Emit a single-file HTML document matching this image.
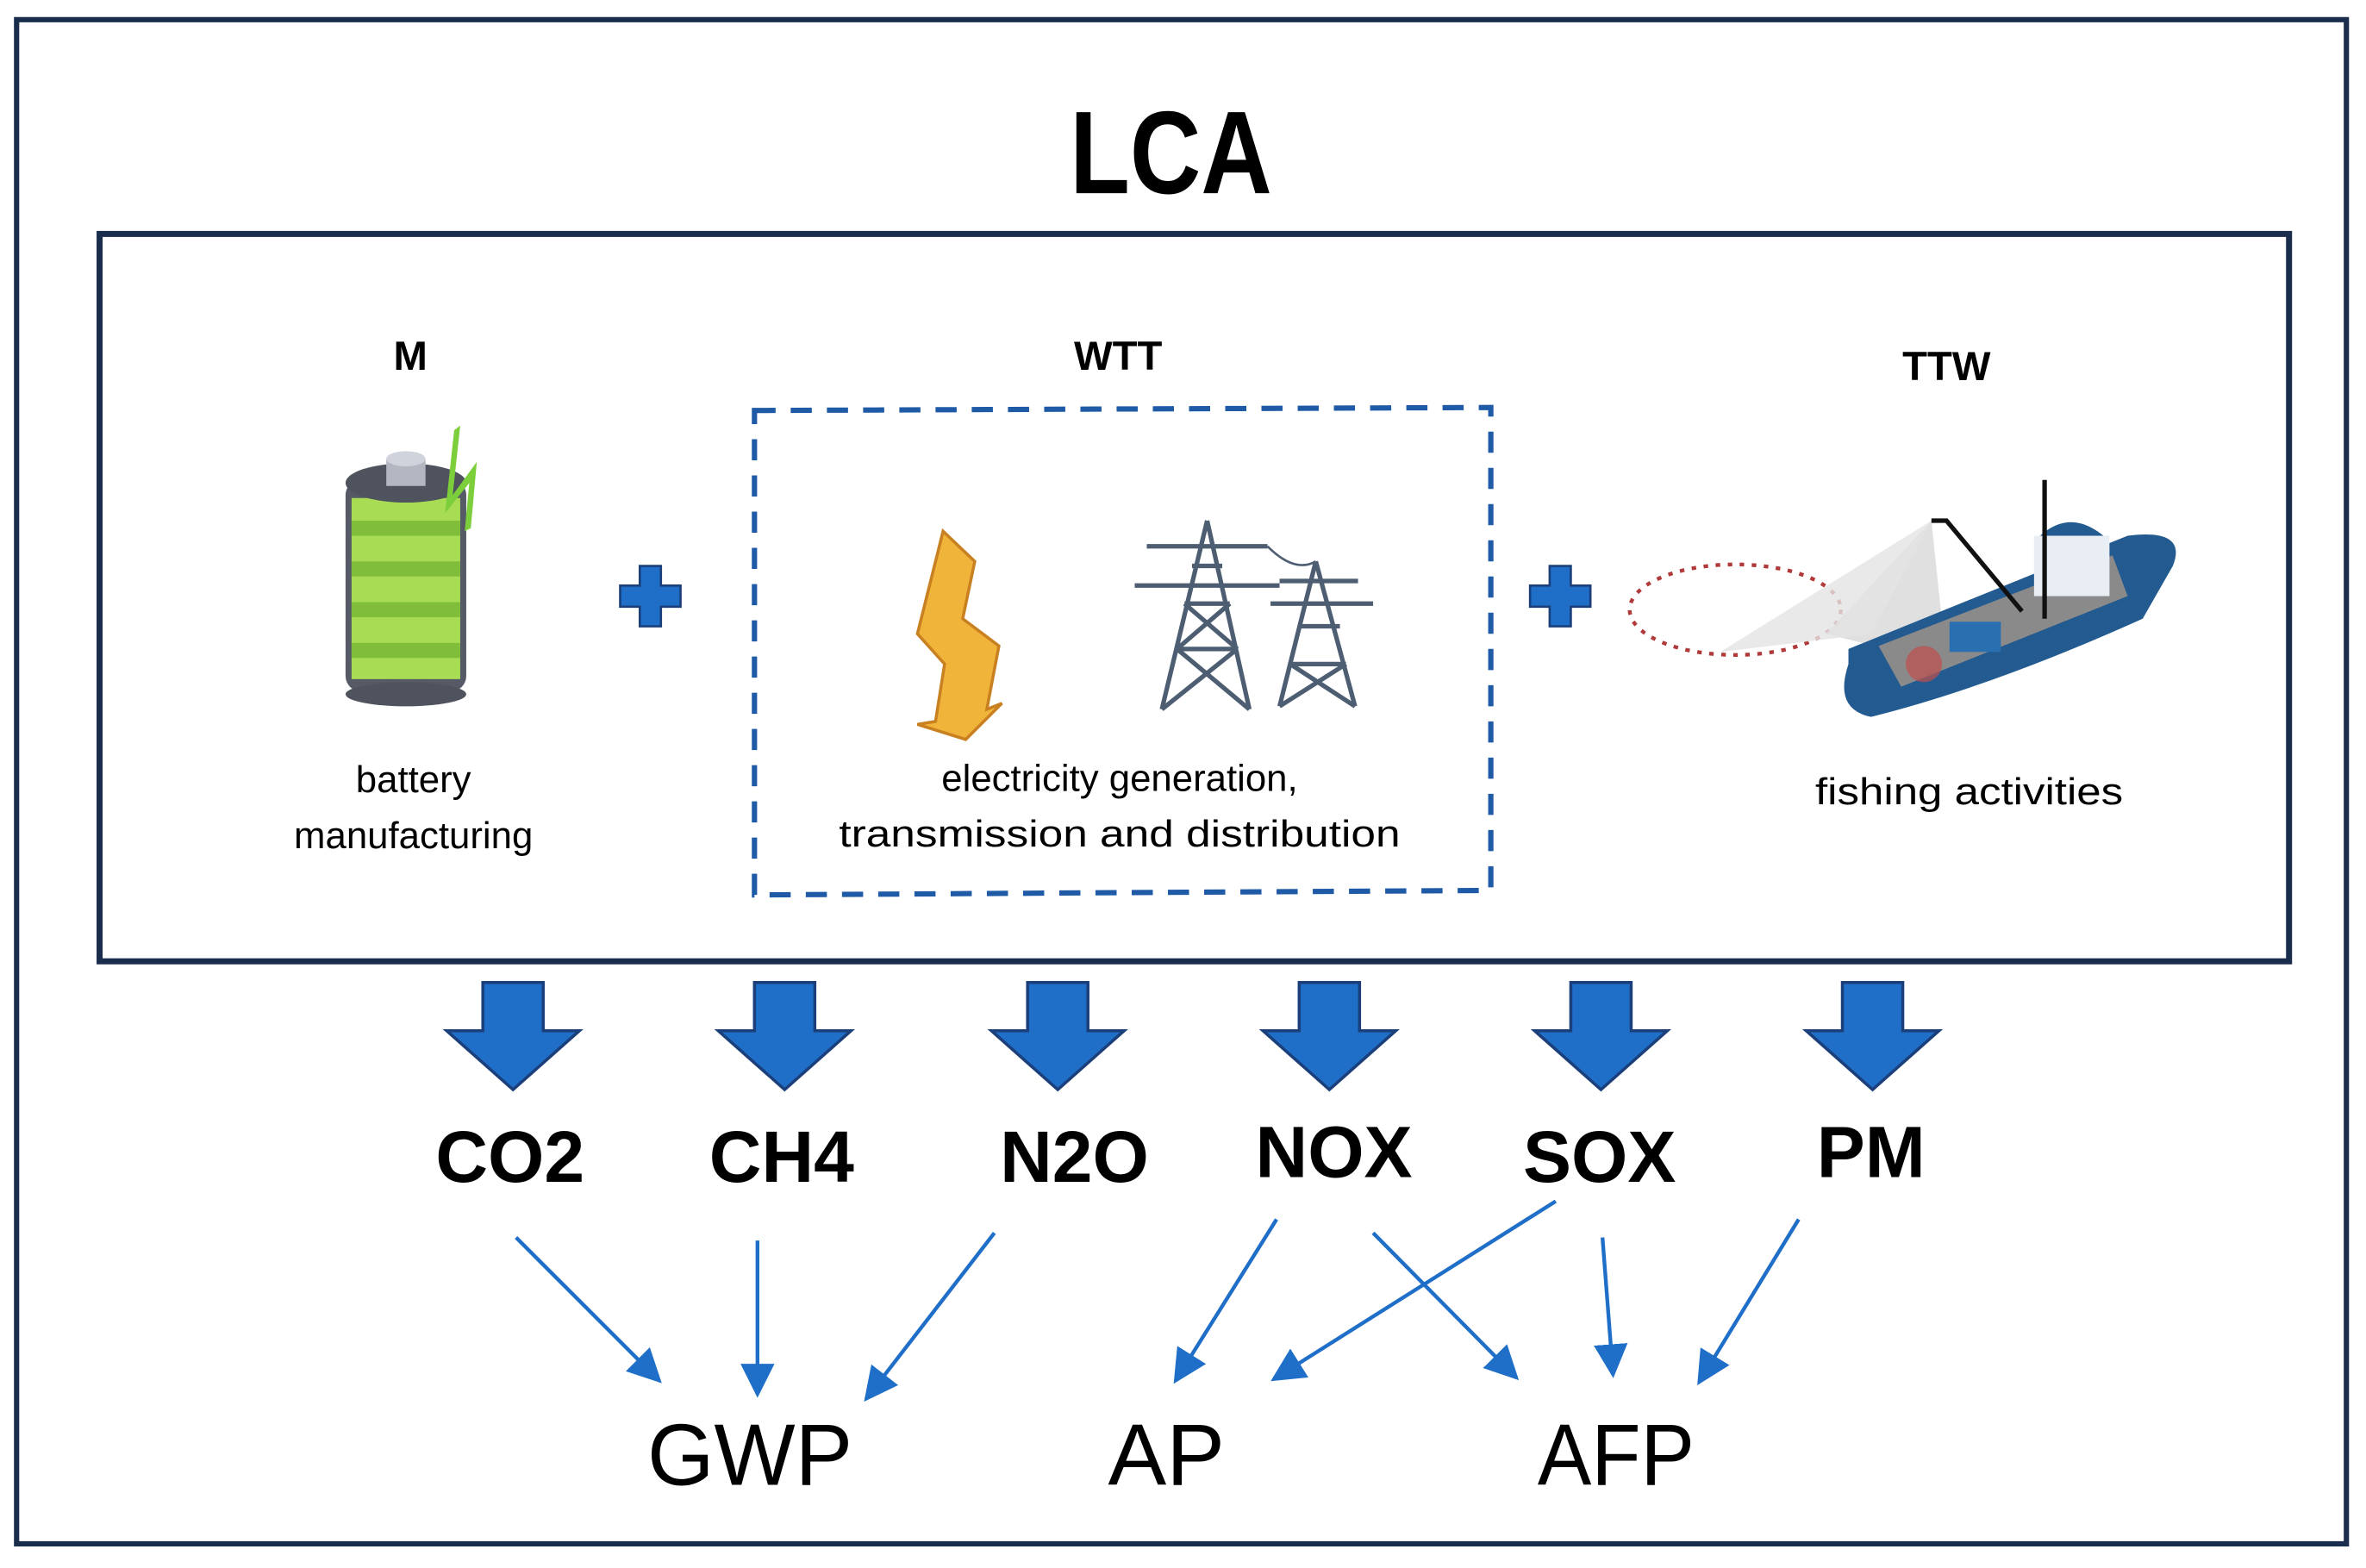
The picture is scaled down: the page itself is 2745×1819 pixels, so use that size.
<!DOCTYPE html>
<html><head><meta charset="utf-8"><style>
html,body{margin:0;padding:0;background:#fff;}
svg{display:block;}
text{font-family:"Liberation Sans",sans-serif;}
</style></head><body>
<svg width="2745" height="1819" viewBox="0 0 1568 1039" xmlns="http://www.w3.org/2000/svg">
<defs>
<marker id="ah" viewBox="0 0 10 10" refX="9" refY="5" markerWidth="9" markerHeight="9" orient="auto" markerUnits="strokeWidth">
<path d="M0,0 L10,5 L0,10 Z" fill="#1f6fc8"/></marker>
</defs>
<rect width="1568" height="1039" fill="#fff"/>
<rect x="11" y="13" width="1544" height="1010" fill="none" stroke="#1b2d4d" stroke-width="3.5"/>
<text x="776" y="128" font-size="78" font-weight="bold" text-anchor="middle" textLength="134" lengthAdjust="spacingAndGlyphs">LCA</text>
<rect x="66" y="155" width="1451" height="482" fill="none" stroke="#1b2d4d" stroke-width="4"/>
<text x="272" y="245" font-size="27" font-weight="bold" text-anchor="middle">M</text>
<text x="741" y="245" font-size="27" font-weight="bold" text-anchor="middle">WTT</text>
<text x="1290" y="252" font-size="27" font-weight="bold" text-anchor="middle">TTW</text>
<path d="M500,272 L988,270 L988,590 L500,593 Z" fill="none" stroke="#1f5aa6" stroke-width="3.5" stroke-dasharray="14,10"/>
<g fill="#1f6fc8" stroke="#1b3f7a" stroke-width="1.5">
<path d="M424,375 h14 v13 h13 v14 h-13 v13 h-14 v-13 h-13 v-14 h13 Z"/>
<path d="M1027,375 h14 v13 h13 v14 h-13 v13 h-14 v-13 h-13 v-14 h13 Z"/>
</g>
<g>
<rect x="229" y="318" width="80" height="140" rx="10" fill="#555a66"/>
<rect x="233" y="330" width="72" height="120" fill="#a8dc55"/>
<rect x="233" y="345" width="72" height="10" fill="#7fbd3a"/>
<rect x="233" y="372" width="72" height="10" fill="#7fbd3a"/>
<rect x="233" y="399" width="72" height="10" fill="#7fbd3a"/>
<rect x="233" y="426" width="72" height="10" fill="#7fbd3a"/>
<ellipse cx="269" cy="320" rx="40" ry="13" fill="#4e535e"/>
<ellipse cx="269" cy="460" rx="40" ry="8" fill="#4e535e"/>
<rect x="256" y="304" width="26" height="18" fill="#b4b6c2"/>
<ellipse cx="269" cy="304" rx="13" ry="5" fill="#d0d2dc"/>
<path d="M305,282 L300,328 L316,306 L312,350 L308,352 L311,320 L295,340 L301,285 Z" fill="#7ccf3a"/>
</g>
<path d="M625,352 L646,372 L638,410 L662,428 L654,470 L664,466 L640,490 L608,480 L620,478 L626,440 L608,420 Z" fill="#f0b43a" stroke="#c98020" stroke-width="2"/>
<g stroke="#4d5e72" stroke-width="3" fill="none">
<path d="M800,345 L770,470 M800,345 L828,470 M780,430 L820,430 M785,400 L815,400 M790,375 L810,375 M770,470 L820,430 M828,470 L780,430 M780,430 L815,400 M820,430 L785,400 M752,388 L848,388 M760,362 L840,362"/>
<path d="M872,372 L848,468 M872,372 L898,468 M855,440 L892,440 M860,415 L888,415 M848,468 L892,440 M898,468 L855,440 M842,400 L910,400 M848,385 L900,385"/>
<path d="M840,362 Q858,380 872,372" stroke-width="1.5"/>
</g>
<g>
<ellipse cx="1150" cy="404" rx="70" ry="30" fill="none" stroke="#b03a3a" stroke-width="2.5" stroke-dasharray="3,5"/>
<path d="M1210,420 L1280,345 L1290,440 Z" fill="#d8d8d8" opacity="0.8"/>
<path d="M1140,432 L1280,345 L1240,420 Z" fill="#e4e4e4" opacity="0.8"/>
<path d="M1225,430 L1410,355 Q1450,350 1440,375 L1420,410 Q1320,455 1240,475 Q1215,470 1225,440 Z" fill="#235b90"/>
<path d="M1245,428 L1400,368 L1410,395 L1260,455 Z" fill="#8a8a8a"/>
<rect x="1348" y="355" width="50" height="40" fill="#e8eef4"/>
<path d="M1352,355 q20,-18 42,0 z" fill="#235b90"/>
<rect x="1292" y="412" width="34" height="20" fill="#2a6fb0"/>
<line x1="1355" y1="318" x2="1355" y2="410" stroke="#111" stroke-width="3"/>
<path d="M1280,345 L1290,345 L1340,405" stroke="#111" stroke-width="3" fill="none"/>
<circle cx="1275" cy="440" r="12" fill="#c0504d" opacity="0.7"/>
</g>
<g font-size="25" text-anchor="middle">
<text x="274" y="525">battery</text>
<text x="274" y="562">manufacturing</text>
<text x="742" y="524">electricity generation,</text>
<text x="742" y="561" textLength="372" lengthAdjust="spacingAndGlyphs">transmission and distribution</text>
<text x="1305" y="533" textLength="204" lengthAdjust="spacingAndGlyphs">fishing activities</text>
</g>
<g fill="#1f6fc8" stroke="#1b3f7a" stroke-width="2">
<path d="M320,651 h40 v32 h24 l-44,39 l-44,-39 h24 Z"/>
<path d="M500,651 h40 v32 h24 l-44,39 l-44,-39 h24 Z"/>
<path d="M681,651 h40 v32 h24 l-44,39 l-44,-39 h24 Z"/>
<path d="M861,651 h40 v32 h24 l-44,39 l-44,-39 h24 Z"/>
<path d="M1041,651 h40 v32 h24 l-44,39 l-44,-39 h24 Z"/>
<path d="M1221,651 h40 v32 h24 l-44,39 l-44,-39 h24 Z"/>
</g>
<g font-size="48" font-weight="bold" text-anchor="middle">
<text x="338" y="783">CO2</text>
<text x="518" y="783">CH4</text>
<text x="712" y="783">N2O</text>
<text x="884" y="780">NOX</text>
<text x="1060" y="783">SOX</text>
<text x="1240" y="780">PM</text>
</g>
<g stroke="#1f6fc8" stroke-width="2.5" fill="none" marker-end="url(#ah)">
<line x1="342" y1="820" x2="437" y2="915"/>
<line x1="502" y1="822" x2="502" y2="924"/>
<line x1="659" y1="817" x2="574" y2="927"/>
<line x1="846" y1="808" x2="779" y2="915"/>
<line x1="910" y1="817" x2="1005" y2="913"/>
<line x1="1031" y1="796" x2="844" y2="914"/>
<line x1="1062" y1="820" x2="1069" y2="911"/>
<line x1="1192" y1="808" x2="1126" y2="916"/>
</g>
<g font-size="58" text-anchor="middle">
<text x="497" y="984" textLength="136" lengthAdjust="spacingAndGlyphs">GWP</text>
<text x="773" y="984">AP</text>
<text x="1071" y="984" textLength="104" lengthAdjust="spacingAndGlyphs">AFP</text>
</g>
</svg>
</body></html>
